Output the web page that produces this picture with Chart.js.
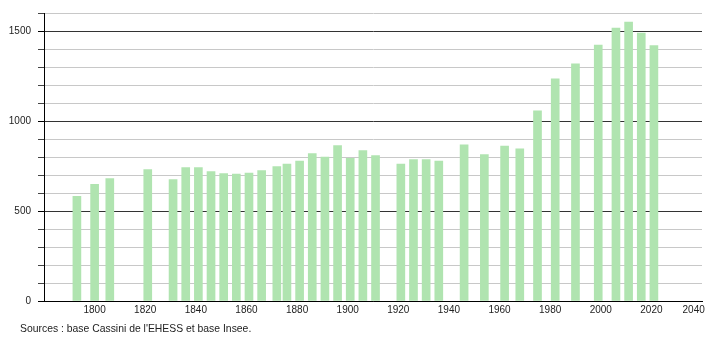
<!DOCTYPE html>
<html>
<head>
<meta charset="utf-8">
<script src="https://cdn.jsdelivr.net/npm/chart.js@4/dist/chart.umd.min.js"></script>
<style>
  html, body { margin: 0; padding: 0; background: #fff; }
  #wrap { position: relative; width: 710px; height: 340px; }
  #source {
    position: absolute; left: 20px; top: 323px;
    font: 10.4px "Liberation Sans", Arial, sans-serif; color: #222;
  }
</style>
</head>
<body>
<div id="wrap">
  <canvas id="chart" width="710" height="340"></canvas>
  <div id="source">Sources : base Cassini de l'EHESS et base Insee.</div>
</div>
<script>
const YEARS = [1793, 1800, 1806, 1821, 1831, 1836, 1841, 1846, 1851, 1856, 1861, 1866,
    1872, 1876, 1881, 1886, 1891, 1896, 1901, 1906, 1911, 1921, 1926, 1931, 1936,
    1946, 1954, 1962, 1968, 1975, 1982, 1990, 1999, 2006, 2011, 2016, 2021];
const POPULATION = [581, 648, 680, 730, 675, 741, 741, 719, 708, 705, 711, 725,
    747, 760, 778, 819, 800, 863, 793, 836, 808, 760, 786, 786, 778,
    867, 813, 860, 845, 1057, 1234, 1317, 1422, 1516, 1549, 1489, 1419];

const BAR_COLOR = 'rgb(176, 228, 176)';
const FONT = { family: '"Liberation Sans", Arial, sans-serif', size: 10 };

const DATA = YEARS.map((year, i) => ({ x: year, y: POPULATION[i] }));

new Chart(document.getElementById('chart'), {
    type: 'bar',
    data: {
        datasets: [{
            data: DATA,
            backgroundColor: BAR_COLOR,
            borderWidth: 0,
            barThickness: 8,
        }]
    },
    options: {
        responsive: false,
        animation: false,
        layout: { padding: { top: 7, right: 8, bottom: 21, left: 0 } },
        plugins: {
            legend: { display: false },
            tooltip: { enabled: false },
        },
        scales: {
            x: {
                type: 'linear',
                offset: false,
                min: 1780,
                max: 2040,
                grid: { display: false, drawTicks: false },
                border: { display: true, color: '#000', width: 1 },
                ticks: {
                    stepSize: 20,
                    padding: 3,
                    color: '#222',
                    font: FONT,
                    maxRotation: 0,
                    // last label sits inside the plot edge like the original
                    callback: v => v === 1780 ? '' : (v === 2040 ? '2040      ' : String(v)),
                },
                afterFit: scale => { scale.paddingLeft = 0; scale.paddingRight = 0; },
            },
            y: {
                min: 0,
                max: 1600,
                grid: {
                    color: ctx => ctx.tick.value % 500 === 0 ? '#333' : '#c8c8c8',
                    tickColor: ctx => ctx.tick.value % 500 === 0 ? '#000' : '#444',
                    tickLength: 6,
                    lineWidth: 1,
                },
                border: { display: true, color: '#000', width: 1 },
                ticks: {
                    stepSize: 100,
                    padding: 7,
                    color: '#222',
                    font: FONT,
                    callback: v => v % 500 === 0 ? v : '',
                },
                afterFit: scale => { scale.width = 44; },
            },
        },
    },
});
</script>
</body>
</html>
